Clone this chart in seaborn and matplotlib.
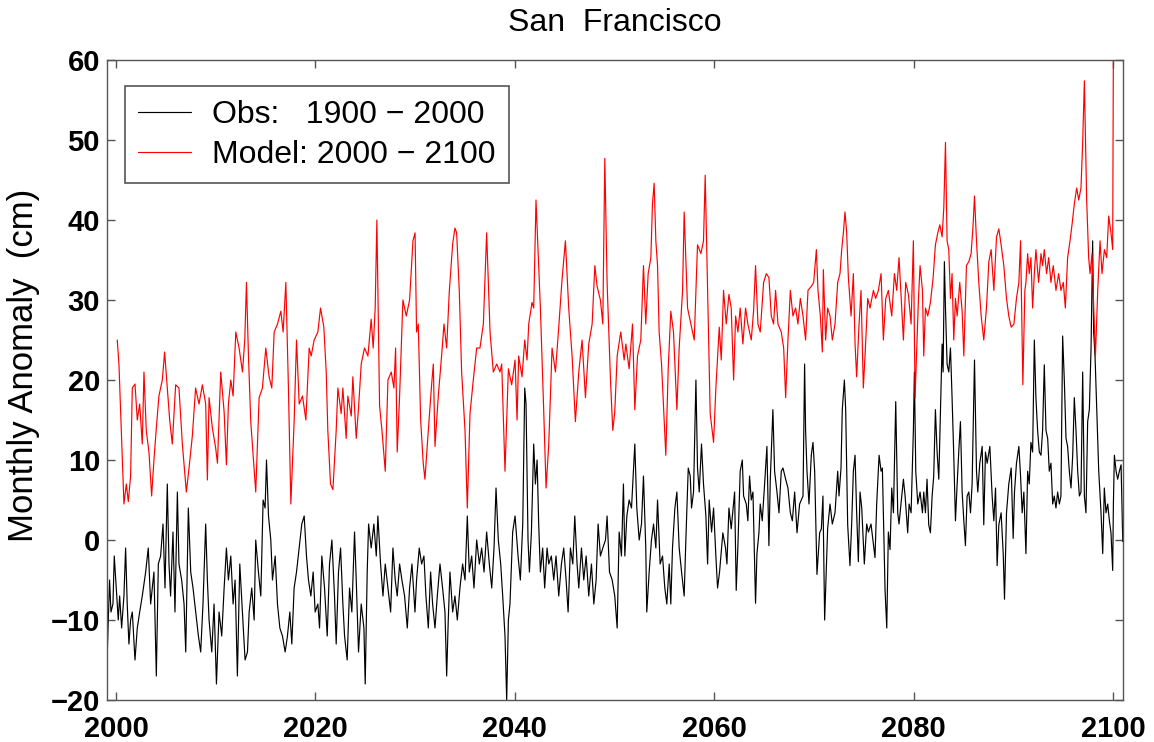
import numpy as np
import pandas as pd
import matplotlib
matplotlib.use("Agg")
import matplotlib.pyplot as plt
import seaborn as sns

# Monthly sea level anomaly (cm)
model_year = [
    2000.13, 2000.3, 2000.8, 2001.04, 2001.24, 2001.47, 2001.64, 2001.91, 2002.14, 2002.38,
    2002.64, 2002.81, 2003.04, 2003.31, 2003.58, 2003.81, 2004.05, 2004.31, 2004.65, 2004.88,
    2005.15, 2005.39, 2005.65, 2005.99, 2006.32, 2006.66, 2007.06, 2007.33, 2007.66, 2007.99,
    2008.33, 2008.67, 2009.0, 2009.17, 2009.34, 2009.67, 2010.0, 2010.18, 2010.51, 2010.85,
    2011.08, 2011.28, 2011.52, 2011.75, 2012.02, 2012.35, 2012.69, 2012.92, 2013.09, 2013.29,
    2013.52, 2013.76, 2014.02, 2014.36, 2014.69, 2015.03, 2015.36, 2015.63, 2015.87, 2016.2,
    2016.54, 2016.77, 2017.04, 2017.3, 2017.54, 2017.87, 2018.11, 2018.38, 2018.71, 2019.05,
    2019.38, 2019.58, 2019.88, 2020.25, 2020.52, 2020.85, 2021.09, 2021.25, 2021.52, 2021.76,
    2022.09, 2022.26, 2022.59, 2022.76, 2023.09, 2023.26, 2023.6, 2023.76, 2024.1, 2024.33,
    2024.6, 2024.93, 2025.27, 2025.6, 2025.8, 2026.0, 2026.17, 2026.44, 2026.68, 2027.01,
    2027.28, 2027.61, 2027.88, 2028.05, 2028.21, 2028.45, 2028.78, 2029.12, 2029.45, 2029.79,
    2030.0, 2030.15, 2030.32, 2030.56, 2030.82, 2030.99, 2031.33, 2031.66, 2031.83, 2032.0,
    2032.33, 2032.66, 2032.9, 2033.17, 2033.43, 2033.77, 2034.0, 2034.17, 2034.44, 2034.67,
    2035.01, 2035.24, 2035.51, 2035.84, 2036.18, 2036.51, 2036.85, 2037.18, 2037.52, 2037.85,
    2038.19, 2038.52, 2038.69, 2039.02, 2039.36, 2039.69, 2040.03, 2040.23, 2040.39, 2040.73,
    2041.0, 2041.23, 2041.4, 2041.73, 2041.9, 2042.13, 2042.4, 2042.57, 2042.9, 2043.14,
    2043.41, 2043.74, 2044.08, 2044.41, 2044.75, 2045.08, 2045.41, 2045.75, 2046.08, 2046.42,
    2046.75, 2047.09, 2047.42, 2047.76, 2048.03, 2048.26, 2048.59, 2048.83, 2049.03, 2049.26,
    2049.6, 2049.83, 2050.03, 2050.27, 2050.63, 2050.97, 2051.14, 2051.47, 2051.81, 2052.04,
    2052.31, 2052.64, 2052.91, 2053.14, 2053.38, 2053.65, 2053.81, 2053.98, 2054.15, 2054.32,
    2054.48, 2054.72, 2054.99, 2055.15, 2055.39, 2055.65, 2055.92, 2056.26, 2056.49, 2056.83,
    2056.99, 2057.33, 2057.66, 2058.0, 2058.33, 2058.67, 2058.93, 2059.1, 2059.34, 2059.6,
    2059.94, 2060.17, 2060.51, 2060.71, 2060.94, 2061.21, 2061.48, 2061.71, 2061.95, 2062.15,
    2062.38, 2062.61, 2062.88, 2063.15, 2063.38, 2063.72, 2063.95, 2064.15, 2064.39, 2064.62,
    2064.96, 2065.23, 2065.49, 2065.73, 2065.96, 2066.16, 2066.4, 2066.73, 2066.97, 2067.17,
    2067.4, 2067.64, 2067.9, 2068.17, 2068.4, 2068.64, 2068.91, 2069.17, 2069.41, 2069.74,
    2069.98, 2070.25, 2070.41, 2070.65, 2070.85, 2070.95, 2071.18, 2071.38, 2071.62, 2071.85,
    2072.12, 2072.39, 2072.62, 2072.79, 2072.96, 2073.12, 2073.29, 2073.46, 2073.73, 2073.96,
    2074.13, 2074.29, 2074.53, 2074.73, 2074.96, 2075.13, 2075.4, 2075.63, 2075.97, 2076.2,
    2076.47, 2076.74, 2076.97, 2077.21, 2077.47, 2077.81, 2078.08, 2078.31, 2078.54, 2078.81,
    2078.98, 2079.21, 2079.48, 2079.75, 2079.98, 2080.15, 2080.49, 2080.65, 2080.89, 2081.02,
    2081.19, 2081.42, 2081.69, 2081.96, 2082.19, 2082.43, 2082.63, 2082.86, 2083.03, 2083.2,
    2083.36, 2083.53, 2083.7, 2083.86, 2084.03, 2084.2, 2084.37, 2084.63, 2084.87, 2085.04,
    2085.3, 2085.54, 2085.77, 2085.97, 2086.11, 2086.31, 2086.54, 2086.78, 2087.04, 2087.31,
    2087.55, 2087.78, 2088.05, 2088.32, 2088.55, 2088.78, 2089.05, 2089.32, 2089.55, 2089.79,
    2090.06, 2090.32, 2090.56, 2090.73, 2090.96, 2091.16, 2091.27, 2091.44, 2091.6, 2091.77,
    2091.94, 2092.11, 2092.27, 2092.54, 2092.78, 2092.94, 2093.11, 2093.34, 2093.55, 2093.78,
    2094.01, 2094.28, 2094.55, 2094.78, 2095.02, 2095.22, 2095.45, 2095.69, 2095.89, 2096.12,
    2096.36, 2096.56, 2096.79, 2096.96, 2097.13, 2097.23, 2097.36, 2097.56, 2097.7, 2097.9,
    2098.07, 2098.24, 2098.47, 2098.7, 2098.9, 2099.14, 2099.37, 2099.57, 2099.8, 2099.97,
    2100.04,
]
model_cm = [
    25, 22, 4.5, 7, 4.8, 8, 19, 19.5, 15, 17,
    12, 21, 13.7, 11, 5.5, 10, 14, 18, 20, 23.5,
    19, 15, 12, 19.4, 19, 12, 6, 9, 13, 19,
    17, 19.4, 17, 7.5, 17.8, 14, 11.5, 9.6, 21, 16,
    9.4, 17, 20, 18, 26, 24, 21, 25, 32.2, 23,
    14.8, 10.6, 6, 17.8, 19, 24, 20.4, 19, 26, 27,
    28.6, 26, 32.2, 19, 4.5, 14.8, 25, 17, 18, 15,
    24, 23, 25, 26, 29, 26.6, 21, 13.7, 7, 6.3,
    13.7, 19, 15.8, 19, 12.7, 18, 15.5, 20.4, 12.7, 16.5,
    22, 24, 23, 27.6, 24, 29, 40, 16.8, 13.7, 8.6,
    20, 21, 19, 24, 11, 18, 30, 28, 30, 37.4,
    38.4, 26, 27, 15, 9.6, 7.6, 13.7, 19.4, 22, 11.7,
    18, 23, 27, 24, 31, 37, 39, 38.4, 31, 21,
    13.7, 4, 15.8, 20, 24, 24, 27, 38.4, 26, 21,
    22, 21, 22, 8.6, 21.4, 19.4, 22.5, 15, 23, 20.4,
    25, 22.5, 27, 29.7, 29, 42.5, 34.3, 29, 16.3, 6.5,
    12, 24, 21, 26.6, 32.7, 37.4, 29, 23, 14.8, 21,
    25, 17.8, 24.5, 27, 34.3, 31.7, 30, 27, 47.7, 32.2,
    20, 13.7, 16, 23, 26, 22.5, 24.5, 21.4, 27, 16.3,
    23, 25, 34.3, 27, 33.3, 35.3, 42, 44.6, 37.4, 34.3,
    26, 22, 14.8, 10.6, 21.4, 28.6, 26, 16.3, 24, 31.2,
    41, 29, 27, 25, 36.9, 35.8, 37.4, 45.6, 31.2, 15.8,
    12.2, 19, 26.6, 22.5, 31.2, 27, 30.7, 29, 20, 28,
    26, 29, 24.5, 29, 27, 25, 28.6, 34.3, 27, 26,
    32.2, 33.3, 32.8, 28, 27, 31.2, 27, 26, 24, 17.8,
    25, 31.2, 28, 29, 27, 30.2, 28, 25, 31.2, 31.7,
    32.2, 36.3, 31.2, 28, 23.5, 33.8, 25, 29, 28, 25,
    27, 32.2, 33.3, 36.3, 38.4, 41, 38.4, 32.8, 28, 33.3,
    24.5, 20.4, 27, 31.2, 19, 23, 30.2, 29, 31.2, 30.2,
    31.2, 33.3, 25, 30.2, 31.2, 28, 33.3, 31.2, 35.3, 29,
    25, 32.2, 30.7, 27, 37.4, 17.8, 30.2, 34.3, 31.2, 23,
    29, 28, 29.7, 32.8, 36.9, 38.4, 39.4, 37.9, 41.5, 49.7,
    37.4, 36.3, 30.2, 33.3, 25, 30.2, 28, 32.2, 28.6, 23,
    34.3, 34.8, 35.8, 39.4, 43, 37.4, 32.2, 28, 25, 29,
    34.8, 36.3, 31.2, 37.9, 38.9, 36.9, 34.3, 30.2, 28, 26.6,
    27, 30.2, 32.2, 37.4, 19.4, 31.2, 32.2, 35.8, 33.3, 35.3,
    29, 33.3, 36.3, 32.2, 35.8, 34.3, 36.3, 33.3, 35.3, 32.2,
    34.3, 31.2, 33.3, 31.2, 32.2, 29, 35.3, 37.4, 39.4, 42,
    44, 42.5, 44, 49.7, 57.4, 50.7, 42.5, 35.3, 33.3, 35.8,
    29, 23, 31.2, 37.4, 33.3, 36.3, 35.3, 40.5, 38.4, 36.3,
    62,
]

obs_year = [
    1999.03, 1999.23, 1999.36, 1999.5, 1999.7, 1999.83, 2000.03, 2000.23, 2000.37, 2000.57,
    2000.8, 2000.97, 2001.13, 2001.3, 2001.47, 2001.64, 2001.91, 2002.14, 2002.38, 2002.64,
    2002.98, 2003.24, 2003.48, 2003.81, 2004.05, 2004.25, 2004.48, 2004.72, 2004.92, 2005.15,
    2005.32, 2005.48, 2005.72, 2005.92, 2006.16, 2006.32, 2006.59, 2006.83, 2007.0, 2007.26,
    2007.5, 2007.73, 2008.0, 2008.27, 2008.5, 2008.73, 2009.0, 2009.17, 2009.34, 2009.61,
    2009.84, 2010.08, 2010.34, 2010.61, 2010.85, 2011.08, 2011.28, 2011.52, 2011.75, 2011.95,
    2012.18, 2012.42, 2012.69, 2012.95, 2013.19, 2013.36, 2013.62, 2013.86, 2014.02, 2014.29,
    2014.53, 2014.76, 2014.96, 2015.1, 2015.3, 2015.53, 2015.7, 2015.97, 2016.2, 2016.44,
    2016.7, 2016.97, 2017.2, 2017.44, 2017.64, 2017.87, 2018.11, 2018.38, 2018.64, 2018.88,
    2019.11, 2019.31, 2019.55, 2019.78, 2019.98, 2020.25, 2020.42, 2020.65, 2020.92, 2021.19,
    2021.42, 2021.66, 2021.92, 2022.09, 2022.32, 2022.53, 2022.76, 2022.93, 2023.19, 2023.43,
    2023.66, 2023.93, 2024.1, 2024.33, 2024.6, 2024.87, 2025.0, 2025.2, 2025.34, 2025.6,
    2025.87, 2026.11, 2026.27, 2026.54, 2026.78, 2027.01, 2027.28, 2027.55, 2027.78, 2028.01,
    2028.21, 2028.45, 2028.68, 2028.95, 2029.22, 2029.45, 2029.69, 2029.99, 2030.15, 2030.42,
    2030.66, 2030.89, 2031.09, 2031.33, 2031.56, 2031.76, 2032.0, 2032.23, 2032.5, 2032.76,
    2033.0, 2033.17, 2033.33, 2033.5, 2033.77, 2034.0, 2034.24, 2034.5, 2034.77, 2035.01,
    2035.24, 2035.44, 2035.68, 2035.91, 2036.18, 2036.45, 2036.68, 2036.92, 2037.18, 2037.45,
    2037.69, 2037.92, 2038.12, 2038.35, 2038.59, 2038.79, 2039.02, 2039.19, 2039.36, 2039.52,
    2039.79, 2040.03, 2040.33, 2040.56, 2040.8, 2041.0, 2041.13, 2041.33, 2041.47, 2041.67,
    2041.9, 2042.07, 2042.24, 2042.4, 2042.57, 2042.8, 2043.0, 2043.24, 2043.41, 2043.67,
    2043.91, 2044.14, 2044.41, 2044.68, 2044.91, 2045.15, 2045.35, 2045.58, 2045.82, 2046.02,
    2046.25, 2046.42, 2046.69, 2046.92, 2047.16, 2047.42, 2047.69, 2047.93, 2048.16, 2048.36,
    2048.59, 2048.83, 2049.1, 2049.26, 2049.5, 2049.77, 2050.03, 2050.27, 2050.47, 2050.7,
    2050.9, 2051.04, 2051.24, 2051.47, 2051.71, 2051.91, 2052.04, 2052.24, 2052.48, 2052.71,
    2052.91, 2053.14, 2053.24, 2053.48, 2053.71, 2053.92, 2054.15, 2054.32, 2054.58, 2054.82,
    2055.05, 2055.25, 2055.49, 2055.65, 2055.82, 2056.06, 2056.26, 2056.49, 2056.73, 2056.99,
    2057.16, 2057.4, 2057.6, 2057.73, 2057.93, 2058.17, 2058.33, 2058.5, 2058.73, 2058.93,
    2059.17, 2059.34, 2059.5, 2059.74, 2059.94, 2060.17, 2060.34, 2060.54, 2060.87, 2061.14,
    2061.28, 2061.48, 2061.71, 2062.05, 2062.21, 2062.38, 2062.61, 2062.82, 2062.95, 2063.22,
    2063.38, 2063.55, 2063.72, 2063.89, 2064.15, 2064.29, 2064.49, 2064.62, 2064.82, 2065.06,
    2065.29, 2065.49, 2065.63, 2065.89, 2066.06, 2066.3, 2066.5, 2066.73, 2066.9, 2067.17,
    2067.4, 2067.64, 2067.84, 2068.07, 2068.31, 2068.57, 2068.74, 2068.91, 2069.07, 2069.17,
    2069.31, 2069.51, 2069.74, 2069.91, 2070.08, 2070.31, 2070.58, 2070.75, 2070.91, 2071.08,
    2071.38, 2071.62, 2071.85, 2072.12, 2072.39, 2072.52, 2072.72, 2072.85, 2073.06, 2073.19,
    2073.39, 2073.62, 2073.79, 2073.96, 2074.13, 2074.29, 2074.46, 2074.63, 2074.8, 2075.06,
    2075.3, 2075.47, 2075.73, 2075.97, 2076.13, 2076.3, 2076.54, 2076.74, 2076.87, 2077.14,
    2077.31, 2077.47, 2077.64, 2077.81, 2077.98, 2078.21, 2078.41, 2078.54, 2078.74, 2078.98,
    2079.15, 2079.41, 2079.55, 2079.75, 2079.98, 2080.08, 2080.22, 2080.42, 2080.65, 2080.89,
    2081.02, 2081.19, 2081.35, 2081.52, 2081.69, 2081.86, 2082.02, 2082.19, 2082.36, 2082.53,
    2082.69, 2082.86, 2082.96, 2083.09, 2083.2, 2083.36, 2083.53, 2083.7, 2083.86, 2084.03,
    2084.2, 2084.37, 2084.53, 2084.7, 2084.87, 2085.04, 2085.2, 2085.37, 2085.54, 2085.71,
    2085.87, 2086.11, 2086.31, 2086.44, 2086.64, 2086.88, 2087.04, 2087.21, 2087.38, 2087.65,
    2087.88, 2088.05, 2088.22, 2088.38, 2088.55, 2088.78, 2088.99, 2089.12, 2089.32, 2089.55,
    2089.79, 2089.99, 2090.12, 2090.32, 2090.56, 2090.73, 2090.89, 2091.06, 2091.27, 2091.44,
    2091.6, 2091.77, 2091.94, 2092.11, 2092.27, 2092.44, 2092.61, 2092.78, 2092.94, 2093.11,
    2093.28, 2093.45, 2093.61, 2093.78, 2093.95, 2094.11, 2094.28, 2094.45, 2094.62, 2094.78,
    2094.95, 2095.12, 2095.29, 2095.45, 2095.62, 2095.79, 2095.96, 2096.12, 2096.29, 2096.46,
    2096.63, 2096.79, 2096.96, 2097.13, 2097.29, 2097.46, 2097.63, 2097.8, 2097.96, 2098.06,
    2098.2, 2098.37, 2098.57, 2098.8, 2098.97, 2099.13, 2099.3, 2099.47, 2099.64, 2099.8,
    2099.97, 2100.04, 2100.14, 2100.31, 2100.47, 2100.64, 2100.81, 2100.98,
]
obs_cm = [
    -18, -10, -5, -9, -8, -2, -6, -10, -7, -11,
    -7, -1, -8, -13, -10, -9, -15, -11, -9, -7,
    -4, -1, -8, -4, -17, -3, -2, 2, -6, 7,
    -3, -7, 1, -9, 6, -3, -5, -8, -14, 4,
    -4, -6, -9, -12, -14, -8, 2, -5, -10, -14,
    -8, -18, -9, -12, -6, -1, -5, -2, -8, -5,
    -17, -3, -9, -15, -14, -9, -6, -10, 0, -4,
    -7, 5, 4, 10, 3, 0, -5, -2, -8, -11,
    -12, -14, -12, -9, -13, -6, -4, -1, 2, 3,
    -2, -5, -7, -4, -9, -8, -11, -2, -6, -12,
    -3, 0, -7, -13, -4, -1, -8, -12, -15, -6,
    -9, 1, -5, -14, -8, -11, -18, -4, 2, -1,
    2, -2, 3, -3, -7, -3, -6, -9, -1, -5,
    -7, -3, -5, -7, -11, -6, -3, -9, -5, -1,
    -3, -2, -7, -11, -4, -8, -11, -7, -3, -6,
    -9, -17, -10, -4, -9, -7, -10, -6, -3, -5,
    3, -4, -2, -6, 0, -3, -1, -4, 1, -3,
    -6, -1, 6.5, 0, -3, -7, -12, -20, -10, -8,
    1, 3, -2, -5, 2, 19, 17, 0, -4, 1,
    12, 7, 10, 2, -4, -1, -6, -1, -3, -2,
    -5, -2, -7, -3, -1, -5, -9, -1, -3, 3,
    -3, -6, -1, -5, -2, -7, -3, -8, -5, 2,
    -2, -1, 0, 3, -4, -5, -7, -11, 1, -2,
    7, -2, 3, 5, 4, 9, 12, 4, 0, 2,
    8, -1, -9, -4, 0, 2, -1, 5, -3, -2,
    -6, -8, -3, -8, -1, 4, 6, -1, -4, -7,
    0, 9, 8, 4, 6, 20, 9, 6, 12, 7,
    3, -3, 5, 1, 4, -2, -6, -4, 0.9, -1,
    -3, 4, 1.4, 6, -6.3, -0.7, 8.6, 10, 5.5, 4.5,
    2.4, 8, 5, 6, -7.9, -1.7, 0.9, 4.5, 2.4, 7,
    11.7, -0.7, 7.6, 16.3, 8.6, 6, 3.4, 8.6, 9, 7.6,
    6.5, 3.4, 2.4, 6, 0.9, 4.5, 5, 5.5, 22, 13.7,
    8.6, 4.5, 10.6, 12.2, 8.6, -4.3, 0.9, 1.4, 5.5, -10,
    1.4, 4.5, 2, 3.4, 8.6, 5.5, 9, 16.3, 20, 16.3,
    1.9, -3.2, 2, 8.6, 10.6, 3.4, -2.7, 6, 4, -3,
    2, 1, 2, -0.5, -2.2, 4.5, 10.6, 8.6, 9, -6.3,
    -11, 1, -1.2, 6.5, 3.4, 17.3, 3.4, 2, 4.5, 7.6,
    5.5, 0.9, 4.5, 3.4, 13.7, 21, 8.6, 4.5, 6, 3.4,
    6, 3.4, 7.6, 1.9, 0.9, 5.5, 8, 16.3, 11, 7.6,
    15.8, 24.5, 21, 34.8, 29, 22, 21, 24, 17.8, 10.6,
    2.4, 7, 11, 14.8, 6, 2.4, -0.7, 5.5, 6, 3.4,
    7, 22.5, 8.6, 6, 9.6, 11.7, 1.9, 11, 9.6, 11.7,
    5.5, 2.4, 6.5, -3.2, 1.9, 3.4, -1.7, -7.4, 3.4, 7,
    9, 0.2, 6, 9.6, 11.7, 8, 3.4, 6, -1.7, 8.6,
    7, 12.2, 11, 25, 17.8, 13.7, 11, 10.6, 13.7, 21.9,
    13.7, 12.7, 8.6, 9.6, 4.5, 5.5, 4, 6, 4.5, 5.5,
    25.5, 19.9, 12.7, 11.7, 8.6, 6.5, 10.6, 17.8, 13.7, 8.6,
    5.5, 6, 21, 5.5, 3.4, 14.8, 16.3, 24, 37.4, 26,
    23, 16.3, 8.6, 3.4, -1.7, 6.5, 3.4, 4.5, 2.4, 0.9,
    -3.8, 4.5, 10.6, 8.6, 7.6, 8.6, 9.4, -0.2,
]

y_ticks = [-20, -10, 0, 10, 20, 30, 40, 50, 60]
x_ticks = [2000, 2020, 2040, 2060, 2080, 2100]
obs_label = "Obs:   1900 \u2212 2000"
model_label = "Model: 2000 \u2212 2100"

obs = pd.DataFrame({"year": obs_year, "cm": obs_cm})
model = pd.DataFrame({"year": model_year, "cm": model_cm})

sns.set_style("ticks")
plt.rcParams["font.family"] = ["Liberation Sans", "DejaVu Sans"]
plt.rcParams["text.color"] = "black"
plt.rcParams["axes.labelcolor"] = "black"
plt.rcParams["xtick.labelcolor"] = "black"
plt.rcParams["ytick.labelcolor"] = "black"

fig = plt.figure(figsize=(11.54, 7.42), dpi=100)
ax = fig.add_axes([0.0927, 0.0566, 0.8804, 0.8625])

sns.lineplot(data=obs, x="year", y="cm", color="black", lw=0.85, sort=False,
             estimator=None, label=obs_label, ax=ax)
sns.lineplot(data=model, x="year", y="cm", color="#ff0000", lw=0.85, sort=False,
             estimator=None, label=model_label, ax=ax)

ax.set_xlim(1999.1, 2101.0)
ax.set_ylim(-20, 60)
ax.set_xticks(x_ticks)
ax.set_yticks(y_ticks)
ax.tick_params(direction="in", length=6, width=1, color="#555555",
               top=True, right=True, labelsize=21)
ax.tick_params(axis="x", pad=11)
ax.tick_params(axis="y", pad=5)
for lab in ax.get_xticklabels() + ax.get_yticklabels():
    lab.set_fontweight("bold")
for sp in ax.spines.values():
    sp.set_visible(True)
    sp.set_color("#555555")
    sp.set_linewidth(1)

ax.set_xlabel("")
ax.set_ylabel("Monthly Anomaly  (cm)", fontsize=25)
ax.yaxis.set_label_coords(-0.066, 0.523)
ax.set_title("San  Francisco", fontsize=23, pad=21)

leg = ax.legend(loc="upper left", bbox_to_anchor=(0.0177, 0.959), borderaxespad=0,
                fontsize=23, handlelength=1.65, handletextpad=0.66, labelspacing=0.32,
                borderpad=0.42, frameon=True, fancybox=False, framealpha=1)
leg.get_frame().set_edgecolor("#555555")
leg.get_frame().set_linewidth(1.2)

fig.savefig("out.png", dpi=100)
